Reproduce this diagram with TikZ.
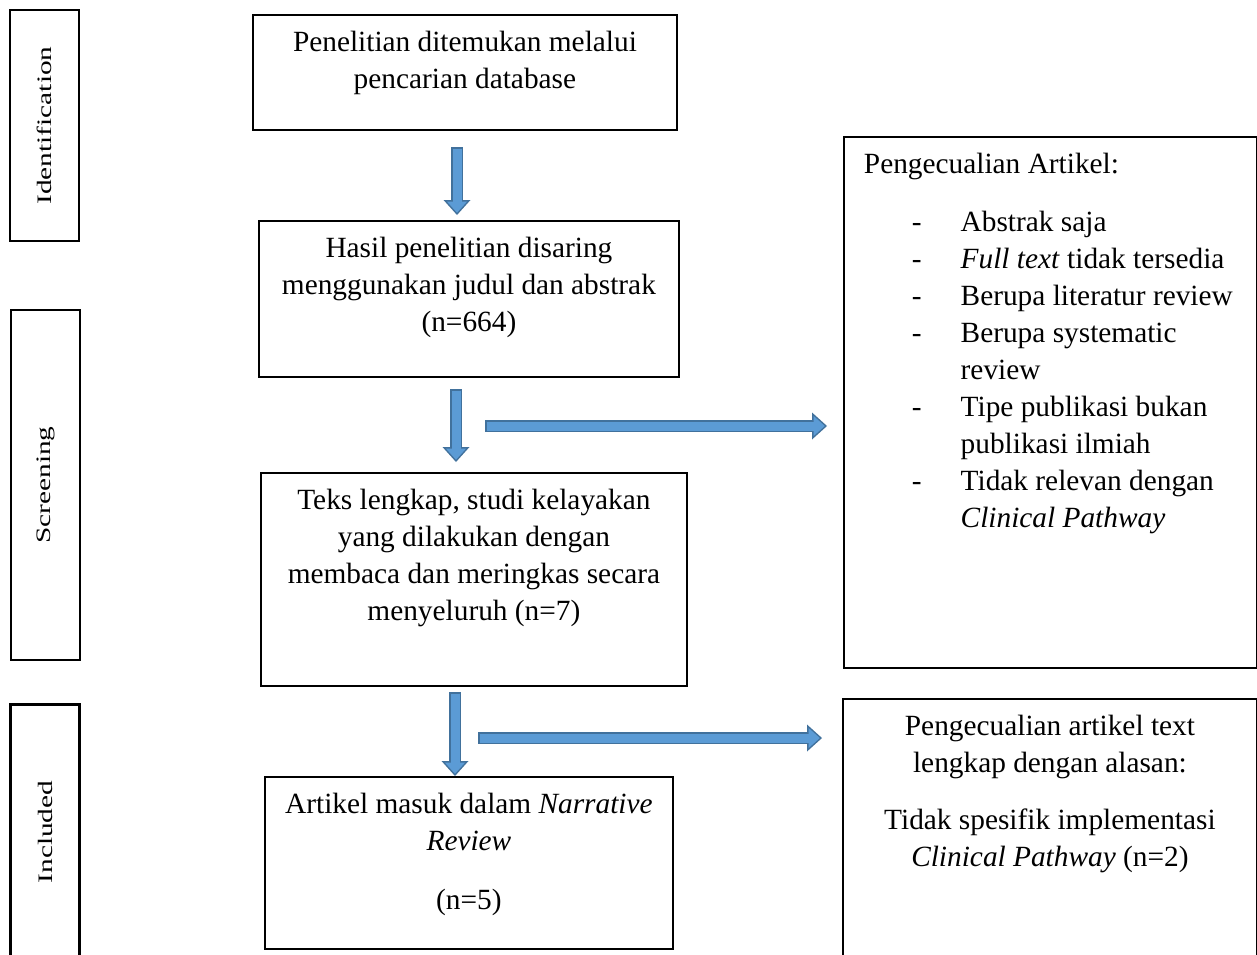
\documentclass[tikz,border=0pt]{standalone}
\usepackage{fontspec}
\setmainfont{Liberation Serif}
\usepackage{xcolor}
\usepackage{tikz}
\usetikzlibrary{arrows.meta}
\definecolor{arrowfill}{HTML}{5B9BD5}
\definecolor{arrowedge}{HTML}{41719C}
\newcommand{\boxtext}[3]{\begin{minipage}[t][#2][t]{#1}\centering\vspace*{6.3pt}\strut #3\end{minipage}}
\tikzset{
    box/.style={draw, line width=1.1pt, inner sep=0pt, anchor=north west},
    sidebox/.style={draw, line width=1.4pt, inner sep=0pt, rotate=90, yscale=0.7, minimum height=1.97cm},
    blockarrow/.style={draw=arrowedge, line width=0.24cm,
        -{Triangle[length=0.30cm, width=0.54cm, line width=0pt]},
        postaction={draw=arrowfill, line width=0.18cm, shorten >=0.045cm, shorten <=0.03cm,
            -{Triangle[length=0.225cm, width=0.405cm, line width=0pt]}}}
}

\begin{document}
\begin{tikzpicture}[x=0.02cm, y=-0.02cm, font=\fontsize{16.7pt}{21pt}\selectfont]
    \useasboundingbox (0,0) rectangle (1257,954);

    % stages
    \node (ident) [sidebox, minimum width=4.62cm] at (44.5,125.5) {Identification};
    \node (screen) [sidebox, minimum width=7.0cm] at (45.5,485) {Screening};
    \node (incl) [sidebox, minimum width=5.1cm] at (45,832) {Included};

    % flow
    \node (found) [box] at (252,14) {\boxtext{8.48cm}{2.30cm}{Penelitian ditemukan melalui\\pencarian database}};
    \node (screened) [box] at (258,220) {\boxtext{8.40cm}{3.12cm}{Hasil penelitian disaring\\menggunakan judul dan abstrak\\(n=664)}};
    \node (fulltext) [box] at (260,472) {\boxtext{8.52cm}{4.26cm}{Teks lengkap, studi kelayakan\\yang dilakukan dengan\\membaca dan meringkas secara\\menyeluruh (n=7)}};
    \node (included) [box] at (264,776) {\boxtext{8.16cm}{3.44cm}{Artikel masuk dalam \textit{Narrative}\\\textit{Review}\\[12.6pt](n=5)}};

    % exclusions
    \node (excl) [box] at (843,136) {\begin{minipage}[t][10.62cm][t]{8.26cm}\vspace*{6.3pt}\noindent\hspace*{0.4cm}\strut Pengecualian Artikel:\par\vspace{12pt}\noindent
        \begin{tabular}[t]{@{\hspace{1.36cm}}l@{\hspace{0.78cm}}l@{}}
            - & Abstrak saja\\
            - & \textit{Full text} tidak tersedia\\
            - & Berupa literatur review\\
            - & Berupa systematic\\
              & review\\
            - & Tipe publikasi bukan\\
              & publikasi ilmiah\\
            - & Tidak relevan dengan\\
              & \textit{Clinical Pathway}
        \end{tabular}\end{minipage}};
    \node (exclfull) [box] at (842,698) {\boxtext{8.28cm}{5.44cm}{Pengecualian artikel text\\lengkap dengan alasan:\\[11.4pt]Tidak spesifik implementasi\\\textit{Clinical Pathway} (n=2)}};

    % arrows
    \coordinate (a1s) at (457,147);
    \coordinate (a1e) at (457,215);
    \coordinate (a2s) at (456,389);
    \coordinate (a2e) at (456,462);
    \coordinate (a3s) at (455,692);
    \coordinate (a3e) at (455,776);
    \coordinate (h1s) at (485,426);
    \coordinate (h1e) at (827,426);
    \coordinate (h2s) at (478,738);
    \coordinate (h2e) at (822,738);
    \draw[blockarrow] (a1s) -- (a1e);
    \draw[blockarrow] (a2s) -- (a2e);
    \draw[blockarrow] (a3s) -- (a3e);
    \draw[blockarrow] (h1s) -- (h1e);
    \draw[blockarrow] (h2s) -- (h2e);
\end{tikzpicture}
\end{document}
